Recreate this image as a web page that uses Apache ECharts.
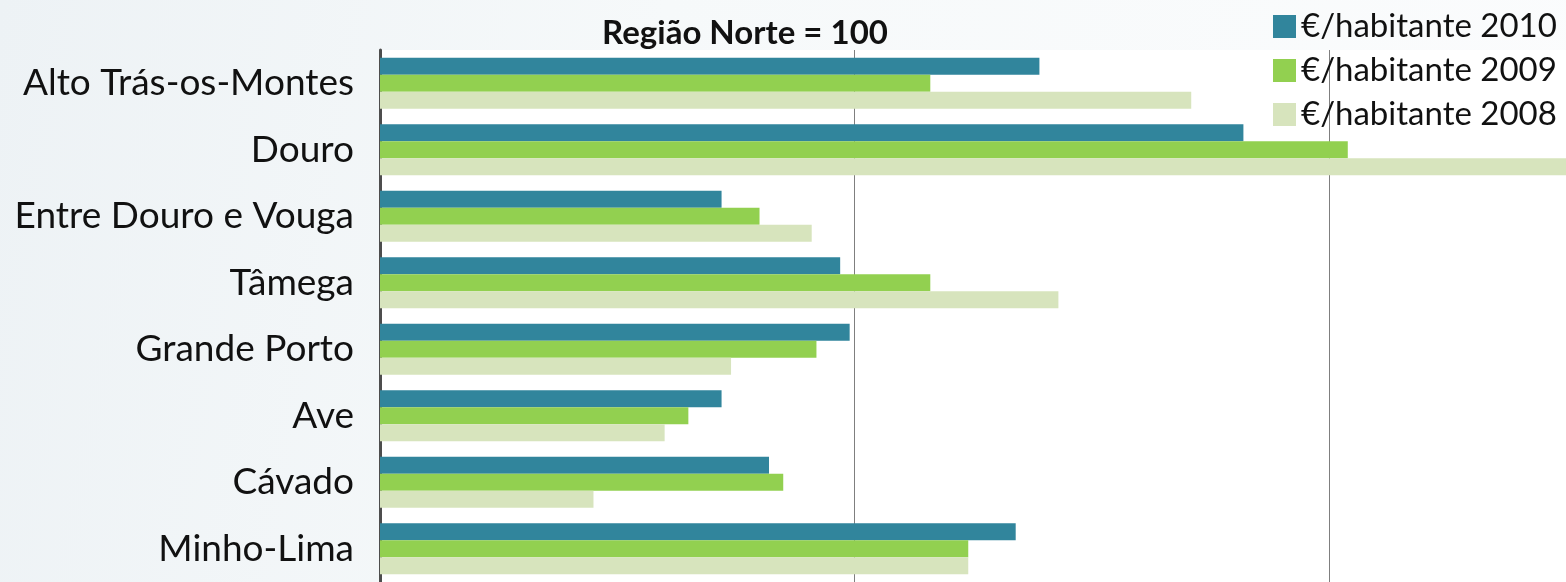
<!DOCTYPE html>
<html>
<head>
<meta charset="utf-8">
<script src="https://cdn.jsdelivr.net/npm/echarts@6/dist/echarts.min.js"></script>
<style>
  html, body { margin: 0; padding: 0; }
  body { background: linear-gradient(100deg, #edf2f5 0%, #f6f9fa 40%, #fbfcfd 100%); }
  #chart { width: 1566px; height: 582px; }
</style>
</head>
<body>
<div id="chart"></div>
<script>
// regiões NUTS III (de cima para baixo)
var regioes = ['Alto Trás-os-Montes', 'Douro', 'Entre Douro e Vouga', 'Tâmega',
  'Grande Porto', 'Ave', 'Cávado', 'Minho-Lima'];
// €/habitante, Região Norte = 100
var hab2010 = [139, 182, 72, 97, 99, 72, 82, 134];
var hab2009 = [116, 204, 80, 116, 92, 65, 85, 124];
var hab2008 = [171, 255, 91, 143, 74, 60, 45, 124];

var chart = echarts.init(document.getElementById('chart'));
var fonte = 'Lato, "Open Sans", sans-serif';

var option = {
  animation: false,
  title: {
    text: 'Região Norte = 100',
    left: 740,
    textAlign: 'center',
    top: 12,
    textStyle: { fontFamily: fonte, fontSize: 33, fontWeight: 'bold', color: '#111' }
  },
  legend: {
    orient: 'vertical',
    left: 1268,
    top: 5,
    itemWidth: 23,
    itemHeight: 23,
    itemGap: 11,
    icon: 'rect',
    textStyle: { fontFamily: fonte, fontSize: 33, color: '#111' },
    data: ['€/habitante 2010', '€/habitante 2009', '€/habitante 2008']
  },
  grid: {
    left: 380, right: 0, top: 50, bottom: -3,
    show: true, backgroundColor: '#ffffff', borderWidth: 0
  },
  xAxis: {
    type: 'value',
    min: 0, max: 250, interval: 100,
    axisLabel: { show: false },
    axisLine: { show: false },
    axisTick: { show: false },
    splitLine: { lineStyle: { color: '#7f7f7f', width: 1 } }
  },
  yAxis: {
    type: 'category',
    inverse: true,
    data: regioes,
    axisTick: { show: false },
    axisLine: { lineStyle: { color: '#4d4d4d', width: 3 } },
    axisLabel: { fontFamily: fonte, fontSize: 37, color: '#111', margin: 26 }
  },
  series: [
    { name: '€/habitante 2010', type: 'bar', data: hab2010, barGap: 0, barCategoryGap: '23%',
      itemStyle: { color: '#31859c' } },
    { name: '€/habitante 2009', type: 'bar', data: hab2009, barGap: 0, barCategoryGap: '23%',
      itemStyle: { color: '#92d050' } },
    { name: '€/habitante 2008', type: 'bar', data: hab2008, barGap: 0, barCategoryGap: '23%',
      itemStyle: { color: '#d7e4bd' } }
  ]
};
chart.setOption(option);
</script>
</body>
</html>
